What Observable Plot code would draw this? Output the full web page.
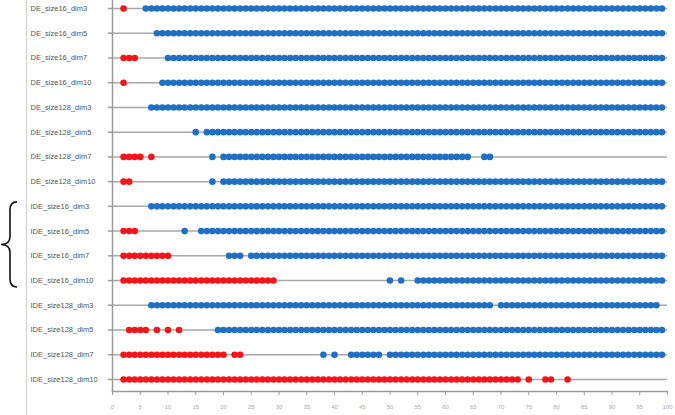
<!DOCTYPE html>
<html>
<head>
<meta charset="utf-8">
<script src="https://cdn.jsdelivr.net/npm/d3@7"></script>
<script src="https://cdn.jsdelivr.net/npm/@observablehq/plot@0.6"></script>
<style>
  html, body { margin: 0; padding: 0; background: #fff; }
  #wrap { position: relative; width: 675px; height: 415px; overflow: hidden; }
  #border { position: absolute; left: 26px; top: 0; width: 0; height: 415px; border-left: 1px solid #cfcfcf; }
  #chart { position: absolute; left: 0; top: 0; }
</style>
</head>
<body>
<div id="wrap"><div id="border"></div><div id="chart"></div></div>
<script>
// Row categories (top to bottom)
const rows = [
  "DE_size16_dim3", "DE_size16_dim5", "DE_size16_dim7", "DE_size16_dim10",
  "DE_size128_dim3", "DE_size128_dim5", "DE_size128_dim7", "DE_size128_dim10",
  "IDE_size16_dim3", "IDE_size16_dim5", "IDE_size16_dim7", "IDE_size16_dim10",
  "IDE_size128_dim3", "IDE_size128_dim5", "IDE_size128_dim7", "IDE_size128_dim10"
];

// Red dots: runs of consecutive positions [from, to] per row
const redRuns = [
  [[2, 2]],
  [],
  [[2, 4]],
  [[2, 2]],
  [],
  [],
  [[2, 5], [7, 7]],
  [[2, 3]],
  [],
  [[2, 4]],
  [[2, 10]],
  [[2, 29]],
  [],
  [[3, 6], [8, 8], [10, 10], [12, 12]],
  [[2, 20], [22, 23]],
  [[2, 73], [75, 75], [78, 79], [82, 82]]
];

// Blue dots: runs of consecutive positions [from, to] per row
const blueRuns = [
  [[6, 99]],
  [[8, 99]],
  [[10, 99]],
  [[9, 99]],
  [[7, 99]],
  [[15, 15], [17, 99]],
  [[18, 18], [20, 64], [67, 68]],
  [[18, 18], [20, 99]],
  [[7, 99]],
  [[13, 13], [16, 99]],
  [[21, 23], [25, 99]],
  [[50, 50], [52, 52], [55, 99]],
  [[7, 68], [70, 98]],
  [[19, 99]],
  [[38, 38], [40, 40], [43, 48], [50, 99]],
  []
];

const xTicks = [0, 5, 10, 15, 20, 25, 30, 35, 40, 45, 50, 55, 60, 65, 70, 75, 80, 85, 90, 95, 100];
const braceRows = ["IDE_size16_dim3", "IDE_size16_dim10"];

function expand(runsPerRow) {
  const out = [];
  runsPerRow.forEach((runs, i) => {
    runs.forEach(([a, b]) => {
      for (let v = a; v <= b; v++) out.push({row: rows[i], x: v});
    });
  });
  return out;
}
const redDots = expand(redRuns);
const blueDots = expand(blueRuns);

const yRange = [8, 379];
const yPos = d3.scalePoint().domain(rows).range(yRange).padding(0);

function brace() {
  const top = yPos(braceRows[0]) - 4;
  const bot = yPos(braceRows[1]) + 7;
  const mid = (top + bot) / 2;
  const xa = 17, xm = 10, xt = 1;
  const p = d3.path();
  p.moveTo(xa, top);
  p.quadraticCurveTo(xm, top, xm, top + 8);
  p.lineTo(xm, mid - 8);
  p.quadraticCurveTo(xm, mid, xt, mid);
  p.quadraticCurveTo(xm, mid, xm, mid + 8);
  p.lineTo(xm, bot - 8);
  p.quadraticCurveTo(xm, bot, xa, bot);
  const path = d3.create("svg:path")
    .attr("d", p.toString())
    .attr("fill", "none")
    .attr("stroke", "#111")
    .attr("stroke-width", 1.6);
  return path.node();
}

const chart = Plot.plot({
  width: 675,
  height: 415,
  marginLeft: 112,
  marginRight: 8,
  marginTop: 0,
  marginBottom: 24,
  x: {domain: [0, 100]},
  y: {type: "point", domain: rows, range: yRange, padding: 0, round: false},
  style: {fontFamily: "'Liberation Sans', Arial, sans-serif", color: "#555", background: "transparent", overflow: "visible"},
  marks: [
    Plot.ruleY(rows, {y: d => d, x1: 0, x2: 100, stroke: "#a8a8a8", strokeWidth: 1.5}),
    Plot.frame({anchor: "left", stroke: "#9a9a9a", strokeWidth: 1.5}),
    Plot.frame({anchor: "bottom", stroke: "#9a9a9a", strokeWidth: 1.5}),
    Plot.axisY({tickSize: 4, tickPadding: 78, textAnchor: "start", fontSize: 7.5, stroke: "#9a9a9a", strokeWidth: 1.5, fill: "#555", label: null}),
    Plot.axisX({ticks: xTicks, tickSize: 4, tickPadding: 9, fontSize: 6, stroke: "#9a9a9a", fill: "#aaa", label: null}),
    Plot.dot(redDots, {x: "x", y: "row", r: 3.3, fill: "#f5141a", stroke: "none"}),
    Plot.dot(blueDots, {x: "x", y: "row", r: 3.3, fill: "#1f6fc2", stroke: "none"}),
    brace
  ]
});
document.getElementById("chart").appendChild(chart);
</script>
</body>
</html>
